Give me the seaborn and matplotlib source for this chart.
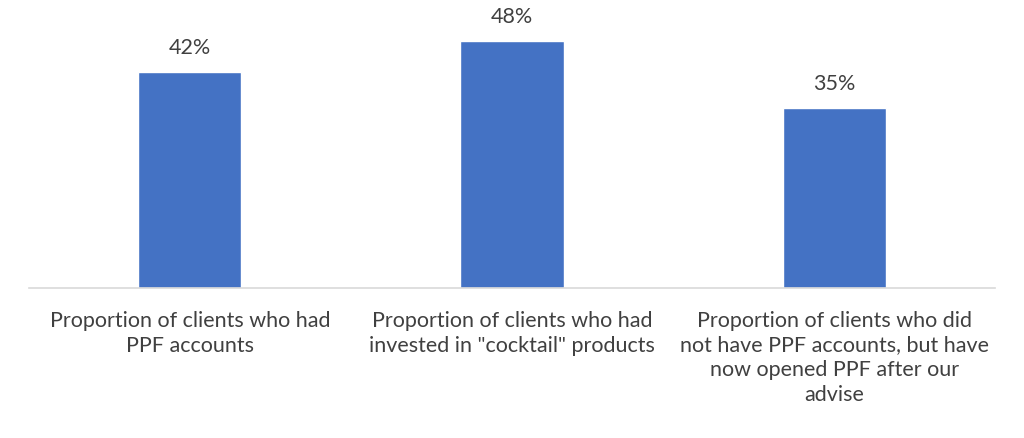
import matplotlib
matplotlib.use("Agg")
import matplotlib.pyplot as plt
import seaborn as sns

# Data
categories = [
    "Proportion of clients who had\nPPF accounts",
    "Proportion of clients who had\ninvested in \"cocktail\" products",
    "Proportion of clients who did\nnot have PPF accounts, but have\nnow opened PPF after our\nadvise",
]
values = [42, 48, 35]
value_labels = ["42%", "48%", "35%"]

sns.set_style("white")
plt.rcParams["font.family"] = ["Lato", "DejaVu Sans"]

fig = plt.figure(figsize=(10.24, 4.39), dpi=100)
ax = fig.add_axes([0.028, 0.342, 0.944, 0.586])

sns.barplot(x=categories, y=values, color="#4472C4", saturation=1, width=0.32, ax=ax)

for i, (v, lab) in enumerate(zip(values, value_labels)):
    ax.text(i, v + 4.8, lab, ha="center", va="center", fontsize=15.5, color="#404040")

ax.set_ylim(0, 50)
ax.set_xlim(-0.5, 2.5)
ax.set_yticks([])
for side in ["top", "right", "left"]:
    ax.spines[side].set_visible(False)
ax.spines["bottom"].set_color("#D9D9D9")
ax.spines["bottom"].set_linewidth(1.2)
ax.tick_params(axis="x", length=0, pad=16, labelsize=15.5, labelcolor="#404040")
for t in ax.get_xticklabels():
    t.set_linespacing(1.28)
    t.set_verticalalignment("top")

fig.savefig("out.png", dpi=100)
